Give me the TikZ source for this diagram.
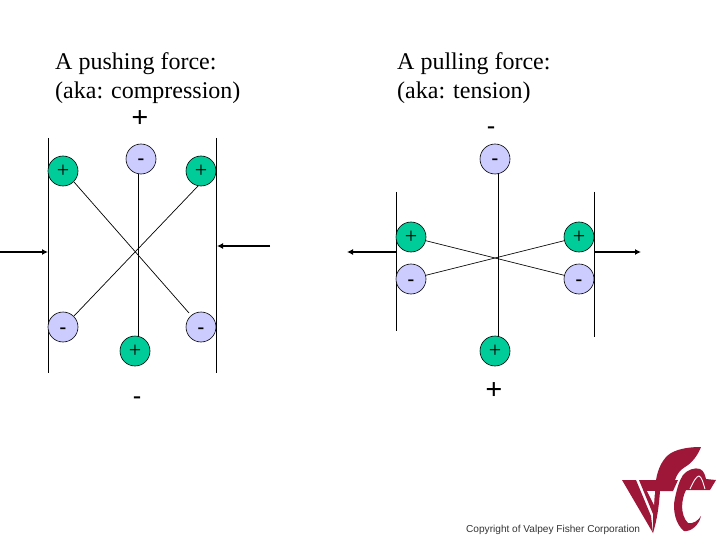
\documentclass[tikz,border=0pt]{standalone}
\usepackage{fontspec}
\setmainfont{Liberation Serif}
\newfontfamily\logofont{Liberation Sans}
\usetikzlibrary{arrows.meta}
\definecolor{chgreen}{RGB}{0,204,153}
\definecolor{chblue}{RGB}{204,204,255}
\definecolor{logored}{RGB}{158,22,56}
\tikzset{
  x=1pt,y=-1pt,
  chg/.style={circle,draw=black,line width=0.6pt,minimum size=30pt,inner sep=0pt},
  posq/.style={chg,fill=chgreen,font=\fontsize{22}{22}\selectfont,text height=14pt,text depth=0.2pt},
  negq/.style={chg,fill=chblue,font=\bfseries\fontsize{20}{20}\selectfont,text height=12.2pt,text depth=0.2pt},
  ttl/.style={anchor=base west,inner sep=0pt,font=\fontsize{24}{24}\selectfont},
  sgnplus/.style={anchor=base,inner sep=0pt,font=\bfseries\fontsize{30}{30}\selectfont},
  sgnminus/.style={anchor=base,inner sep=0pt,font=\bfseries\fontsize{24}{24}\selectfont},
  plate/.style={line width=0.9pt},
  tie/.style={line width=0.7pt},
  stem/.style={line width=0.9pt},
  push/.style={line width=1.4pt,-{Latex[length=6pt,width=6pt]}}
}
\begin{document}
\begin{tikzpicture}
\useasboundingbox (0,0) rectangle (720,540);
% left diagram
\node[ttl] (t1) at (55,70) {A pushing force:};
\node[ttl] (t2) at (55,99) {(aka: compression)};
\node[sgnplus] (s1) at (140,128) {+};
\node[sgnminus] (s2) at (137,403) {-};
\coordinate (p1a) at (48.5,138); \coordinate (p1b) at (48.5,373);
\coordinate (p2a) at (216.5,138); \coordinate (p2b) at (216.5,373);
\draw[plate] (p1a) -- (p1b);
\draw[plate] (p2a) -- (p2b);
\coordinate (t1top) at (138.5,172); \coordinate (t1bot) at (138.5,338);
\draw[stem] (t1top) -- (t1bot);
\coordinate (lf1) at (74,182); \coordinate (lf2) at (189,313);
\coordinate (lf3) at (198,186); \coordinate (lf4) at (74,316);
\draw[tie] (lf1) -- (lf2);
\draw[tie] (lf3) -- (lf4);
\node[posq] (a) at (63,171) {+};
\node[negq] (b) at (141,159) {-};
\node[posq] (c) at (201,171) {+};
\node[negq] (d) at (63,327) {-};
\node[negq] (e) at (201,327) {-};
\node[posq] (f) at (135,351) {+};
\coordinate (fl0) at (0,252); \coordinate (fl1) at (48,252);
\coordinate (fr0) at (270,246); \coordinate (fr1) at (217,246);
\draw[push] (fl0) -- (fl1);
\draw[push] (fr0) -- (fr1);
% right diagram
\node[ttl] (t3) at (397,70) {A pulling force:};
\node[ttl] (t4) at (397,99) {(aka: tension)};
\node[sgnminus] (s3) at (491,134) {-};
\node[sgnplus] (s4) at (494,399) {+};
\coordinate (q1a) at (396,192); \coordinate (q1b) at (396,331);
\coordinate (q2a) at (594.5,192); \coordinate (q2b) at (594.5,337);
\draw[plate] (q1a) -- (q1b);
\draw[plate] (q2a) -- (q2b);
\coordinate (t2top) at (498,172); \coordinate (t2bot) at (498,338);
\draw[stem] (t2top) -- (t2bot);
\node[posq] (g) at (411,237) {+};
\node[negq] (h) at (411,279) {-};
\node[posq] (i) at (579,237) {+};
\node[negq] (j) at (579,279) {-};
\node[negq] (k) at (495,159) {-};
\node[posq] (l) at (495,351) {+};
\draw[tie] (g) -- (j);
\draw[tie] (h) -- (i);
\coordinate (gl0) at (396,252); \coordinate (gl1) at (347,252);
\coordinate (gr0) at (595,252); \coordinate (gr1) at (641,252);
\draw[push] (gl0) -- (gl1);
\draw[push] (gr0) -- (gr1);
% logo
\node[anchor=base west,inner sep=0pt,font=\logofont\fontsize{10.1}{10}\selectfont,text=black!80] (cp) at (466,532) {Copyright of Valpey Fisher Corporation};
\fill[logored] (622,480) -- (636,480) -- (651,516) -- (653,533) -- cycle;
\fill[logored] (639,480) -- (656,480) .. controls (658,468) and (663,458) .. (671,453)
  .. controls (680,448) and (692,447) .. (701,447)
  .. controls (698,455) and (692,463) .. (685,467)
  .. controls (680,470) and (677,474) .. (675,480)
  -- (678,480) -- (673,491) -- (660,491)
  .. controls (659,506) and (657,520) .. (653,533) -- (653,514) -- cycle;
\fill[white] (647,491) -- (655,491) -- (654,505) -- cycle;
\fill[logored] (683,475) .. controls (687,470) and (695,467) .. (700,469)
  .. controls (704,471) and (705,475) .. (706,479) -- (716,480) -- (710,490) -- (686,490)
  .. controls (681,500) and (680,515) .. (688,523)
  .. controls (693,524) and (698,521) .. (701,516)
  .. controls (699,525) and (691,532) .. (684,531)
  .. controls (676,525) and (672,510) .. (675,498)
  .. controls (677,489) and (679,481) .. (683,475) -- cycle;
\draw[white,line width=0.9pt] (690,489) .. controls (694,480) and (697,476) .. (699,476) .. controls (702,477) and (703,483) .. (705,489);
\end{tikzpicture}
\end{document}
